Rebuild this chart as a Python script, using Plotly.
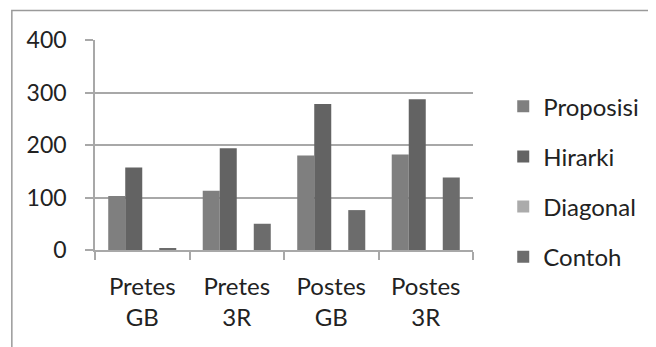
import plotly.graph_objects as go

categories = ["Pretes<br>GB", "Pretes<br>3R", "Postes<br>GB", "Postes<br>3R"]
proposisi = [103, 113, 180, 182]
hirarki = [157, 194, 278, 287]
diagonal = [0, 0, 0, 0]
contoh = [3, 50, 76, 138]
y_ticks = [0, 100, 200, 300, 400]

series = [
    ("Proposisi", proposisi, "#7f7f7f"),
    ("Hirarki", hirarki, "#636363"),
    ("Diagonal", diagonal, "#ababab"),
    ("Contoh", contoh, "#6c6c6c"),
]

fig = go.Figure()
for i, (name, vals, col) in enumerate(series):
    fig.add_trace(go.Bar(
        x=categories, y=vals, name=name, legendgroup=name,
        marker=dict(color=col, line=dict(width=0)),
    ))

font_family = "Lato, Open Sans, sans-serif"
fig.update_layout(
    width=648, height=339,
    margin=dict(l=87, r=175, t=32, b=97),
    paper_bgcolor="white", plot_bgcolor="white",
    barmode="group", bargap=0.28, bargroupgap=0,
    font=dict(family=font_family, size=22, color="#222222"),
    showlegend=True,
    legend=dict(
        x=1.08, xanchor="left", y=0.79, yanchor="top",
        font=dict(size=24, color="#222222"),
        traceorder="grouped", tracegroupgap=16,
        itemwidth=30, bgcolor="rgba(0,0,0,0)",
    ),
    shapes=[dict(type="rect", xref="paper", yref="paper",
                 x0=-0.22, x1=1.6, y0=-0.5, y1=1.14,
                 line=dict(color="#9a9a9a", width=1.5), layer="below")],
)
fig.update_yaxes(
    range=[0, 400], tickvals=y_ticks,
    showgrid=True, gridcolor="#a8a8a8", gridwidth=1.5,
    showline=True, linecolor="#a8a8a8", linewidth=1.5,
    ticks="outside", ticklen=8, tickcolor="#a8a8a8", tickwidth=1.5,
    ticklabelstandoff=14,
    tickfont=dict(size=23, color="#222222"), zeroline=False,
)
fig.update_xaxes(
    showline=True, linecolor="#a8a8a8", linewidth=1.5,
    ticks="outside", ticklen=8, tickcolor="#a8a8a8", tickwidth=1.5,
    tickson="boundaries", tickfont=dict(size=24, color="#222222"),
    ticklabelstandoff=14,
    showgrid=False,
)
fig.write_html("out.html")
